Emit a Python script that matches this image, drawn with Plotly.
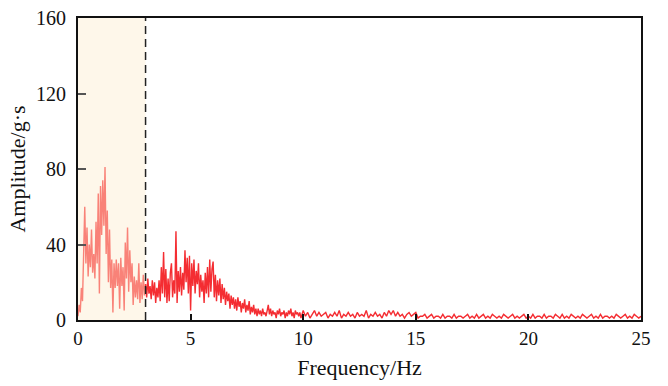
import plotly.graph_objects as go

# Amplitude: 0.05 Hz spacing from 0 to 9.95 Hz
amp_0_3 = [2, 8, 4, 17, 10, 35, 60, 30, 49, 23,
           40, 28, 48, 25, 35, 22, 52, 30, 67, 14,
           71, 45, 74, 50, 81, 35, 58, 20, 48, 17,
           32, 4, 30, 17, 32, 18, 30, 6, 33, 18,
           28, 5, 41, 22, 49, 15, 37, 20, 30, 8,
           23, 12, 21, 11, 30, 9, 20, 11, 24, 13]
amp_3_10 = [19, 12, 22, 14, 18, 11, 21, 13, 20, 9,
            17, 12, 21, 10, 28, 14, 36, 12, 27, 9,
            22, 10, 25, 30, 12, 21, 14, 47, 9, 26,
            15, 28, 13, 25, 16, 37, 20, 33, 14, 34,
            5, 30, 18, 32, 14, 26, 19, 30, 12, 24,
            15, 21, 9, 25, 14, 28, 12, 32, 15, 27,
            31, 12, 24, 10, 21, 13, 22, 9, 19, 11,
            17, 8, 15, 10, 14, 6, 13, 8, 12, 6,
            11, 5, 12, 7, 10, 4, 9, 6, 11, 4,
            8, 5, 10, 3, 7, 4, 8, 3, 6, 2,
            6, 3, 5, 2, 6, 3, 4, 2, 5, 8,
            3, 6, 2, 5, 3, 4, 1, 5, 3, 6,
            2, 4, 3, 5, 1, 4, 2, 5, 3, 6,
            2, 4, 1, 5, 3, 4, 2, 4, 1, 3]
# 0.1 Hz spacing from 10 to 25 Hz
amp_10_25 = [5, 2, 4, 1, 3, 5, 2, 4, 2, 3,
             4, 1, 3, 2, 4, 2, 5, 1, 3, 2,
             4, 2, 3, 1, 4, 2, 3, 2, 5, 1,
             3, 2, 4, 2, 3, 1, 4, 2, 5, 3,
             5, 2, 4, 2, 3, 1, 3, 4, 2, 3,
             4, 1, 2, 2, 3, 1, 2, 3, 1, 2,
             2, 1, 3, 1, 2, 2, 1, 3, 1, 2,
             2, 1, 2, 3, 1, 2, 1, 3, 1, 2,
             3, 1, 2, 1, 3, 2, 1, 2, 1, 3,
             2, 1, 2, 3, 1, 2, 1, 2, 3, 1,
             2, 1, 3, 1, 2, 2, 1, 3, 1, 2,
             2, 1, 3, 2, 1, 3, 1, 2, 1, 3,
             2, 1, 2, 1, 3, 2, 1, 2, 3, 1,
             2, 1, 3, 1, 2, 2, 1, 2, 1, 3,
             2, 1, 2, 3, 1, 2, 1, 3, 2, 1, 2]

STEP_LO = 0.05
STEP_HI = 0.1
amp_lo = amp_0_3 + amp_3_10
freq_lo = [round(i * STEP_LO, 2) for i in range(len(amp_lo))]
freq_hi = [round(10 + i * STEP_HI, 2) for i in range(len(amp_10_25))]
freq = freq_lo + freq_hi
amplitude = amp_lo + amp_10_25

x_ticks = [0, 5, 10, 15, 20, 25]
y_ticks = [0, 40, 80, 120, 160]
band_end = 3.0

n_band = len(amp_0_3)
fig = go.Figure()
fig.add_trace(go.Scatter(x=freq[:n_band + 1], y=amplitude[:n_band + 1], mode="lines",
                         line=dict(color="rgb(249,130,120)", width=1.4), showlegend=False))
fig.add_trace(go.Scatter(x=freq[n_band:], y=amplitude[n_band:], mode="lines",
                         line=dict(color="rgb(244,45,50)", width=1.4), showlegend=False))

fig.add_shape(type="rect", xref="x", yref="y", x0=0, x1=band_end, y0=0, y1=160,
              fillcolor="rgb(254,247,234)", line=dict(width=0), layer="below")
fig.add_shape(type="line", xref="x", yref="y", x0=band_end, x1=band_end, y0=0, y1=160,
              line=dict(color="#222", width=1.5, dash="8px,5px"))

font = dict(family="Liberation Serif, Times New Roman, serif", size=18, color="#111")
fig.update_layout(
    width=668, height=386,
    margin=dict(l=78, r=27, t=18, b=66),
    plot_bgcolor="white", paper_bgcolor="white",
    font=font,
)
fig.update_xaxes(range=[0, 25], tickvals=x_ticks, ticks="inside", ticklen=6, tickwidth=2,
                 tickcolor="#111", showline=True, linecolor="#111", linewidth=2, mirror=True,
                 showgrid=False, zeroline=False, tickfont=dict(size=19), automargin=False,
                 title=dict(text="Frequency/Hz", standoff=12))
fig.update_yaxes(range=[0, 160], tickvals=y_ticks, ticks="inside", ticklen=8, tickwidth=2,
                 tickcolor="#555", showline=True, linecolor="#111", linewidth=2, mirror=True,
                 showgrid=False, zeroline=False, tickfont=dict(size=20), ticklabelstandoff=6,
                 automargin=False,
                 title=dict(text="Amplitude/g·s", standoff=4))

fig.write_html("out.html")
